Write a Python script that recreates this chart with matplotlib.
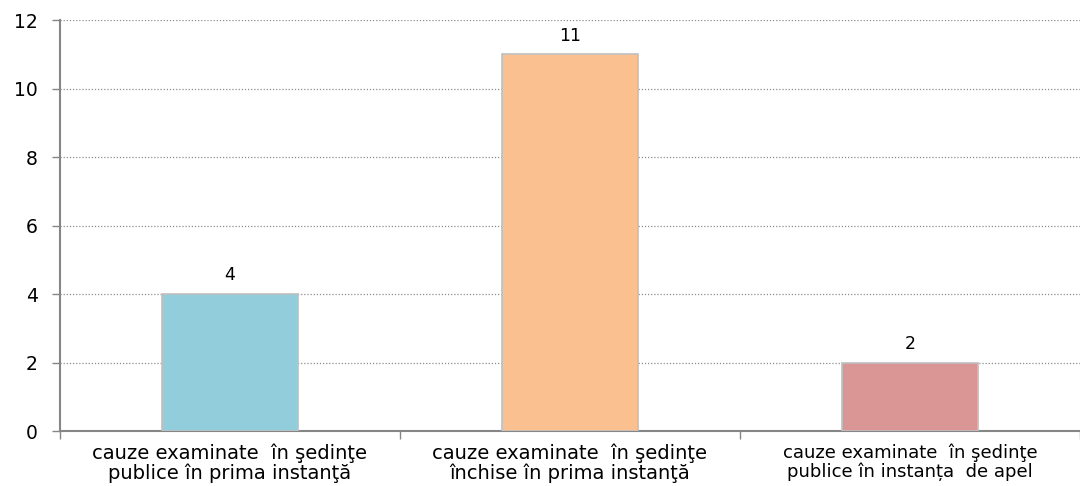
import matplotlib
matplotlib.use('Agg')
import matplotlib.pyplot as plt
import numpy as np

# date grafic
categorii = [
    'cauze examinate  în şedinţe\npublice în prima instanţă',
    'cauze examinate  în şedinţe\nînchise în prima instanţă',
    'cauze examinate  în şedinţe\npublice în instanța  de apel',
]
valori = [4, 11, 2]
culori = ['#92CDDC', '#FAC090', '#D99694']
y_ticks = [0, 2, 4, 6, 8, 10, 12]

fig = plt.figure(figsize=(10.8, 4.86), dpi=100)
ax = fig.add_axes([60 / 1080, 55 / 486, 1020 / 1080, 411 / 486])

x = np.arange(len(valori))
bars = ax.bar(x, valori, width=0.40, color=culori, edgecolor='#BFBFBF',
              linewidth=1.2, zorder=3)

# etichete valori
ax.bar_label(bars, labels=[str(v) for v in valori], padding=7,
             fontsize=12.5, color='#000000')

ax.set_ylim(0, 12)
ax.set_xlim(-0.5, -0.5 + 1020 / 344)
ax.set_yticks(y_ticks)
ax.tick_params(axis='y', length=6, width=1, color='#868686', labelsize=13.5,
               pad=10)
ax.yaxis.grid(True, linestyle=(0, (1, 1.5)), color='#8C8C8C', linewidth=0.9,
              zorder=0)

# etichete categorii
ax.set_xticks(x)
ax.set_xticklabels(categorii, fontsize=14, linespacing=1.0)
ax.get_xticklabels()[2].set_fontsize(13)
ax.tick_params(axis='x', which='major', length=0, pad=9)
ax.set_xticks([-0.5, 0.5, 1.5, 2.5], minor=True)
ax.tick_params(axis='x', which='minor', length=6, width=1, color='#868686')

for s in ['top', 'right']:
    ax.spines[s].set_visible(False)
for s in ['left', 'bottom']:
    ax.spines[s].set_color('#868686')
    ax.spines[s].set_linewidth(1.5)

plt.savefig('out.png', dpi=100)
plt.close()
